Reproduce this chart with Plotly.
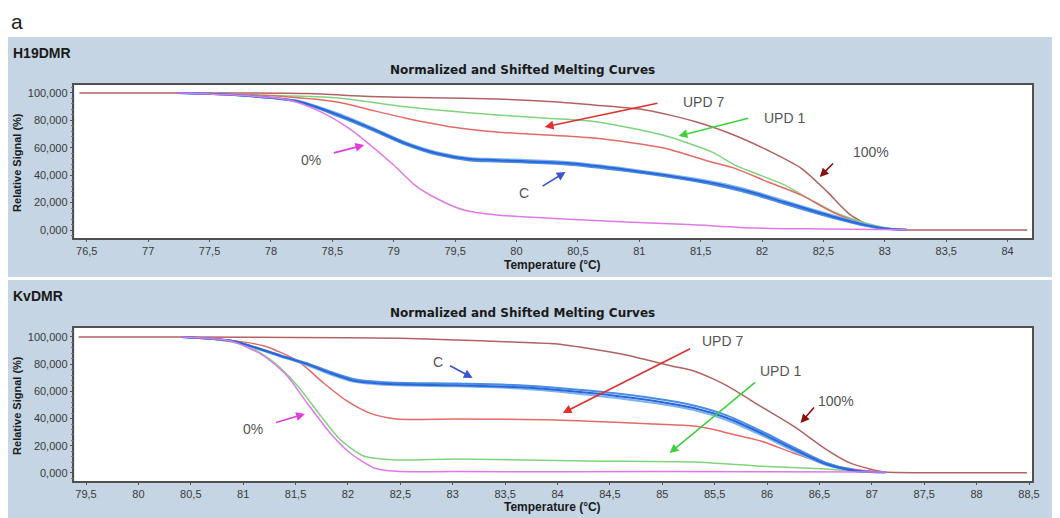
import plotly.graph_objects as go

# ---------------- H19DMR (top panel) ----------------
h19_x_100 = [76.44, 77.5, 78.3, 78.8, 79.3, 79.84, 80.3, 80.65, 81.05, 81.46, 81.78, 82.05, 82.32, 82.53, 82.72, 82.91, 83.1, 83.5, 84.16]
h19_y_100 = [100, 100, 99.6, 97.5, 96.5, 95.5, 93.5, 91, 87.6, 79, 69, 58, 45, 28, 11, 2.2, 0.3, 0, 0]

h19_x_upd1 = [77.24, 77.7, 78.1, 78.55, 79.09, 79.84, 80.25, 80.65, 81.19, 81.59, 81.78, 81.94, 82.18, 82.4, 82.59, 82.85, 83.05, 83.18]
h19_y_upd1 = [100, 99, 98, 96.4, 90, 84, 81.5, 79, 69.3, 57, 47.4, 41.6, 33, 22, 13, 5, 1, 0.2]

h19_x_upd7 = [77.24, 77.7, 78.1, 78.55, 78.81, 79.09, 79.49, 79.84, 80.25, 80.65, 81.19, 81.59, 81.78, 82.05, 82.32, 82.59, 82.85, 83.05, 83.18]
h19_y_upd7 = [100, 99, 97.5, 93.2, 87.6, 81.8, 75, 71.5, 69.3, 67, 60, 49.6, 45, 35, 25.5, 12.4, 4, 1, 0.2]

h19_x_c = [77.24, 77.7, 78.22, 78.55, 78.81, 79.09, 79.35, 79.62, 79.84, 80.38, 80.91, 81.46, 81.7, 81.94, 82.18, 82.59, 82.85, 83.0, 83.18]
h19_y_c1 = [100, 98.5, 94, 84, 74.5, 63.5, 56, 51.8, 51, 49, 43.8, 36.5, 32.4, 27, 20.4, 9.5, 3.6, 1.2, 0.2]
h19_y_c2 = [100, 98.5, 93.5, 83, 73.5, 62.5, 55, 50.8, 50, 48, 42.8, 35.5, 31.2, 25.8, 19.2, 8.6, 3.0, 1.0, 0.2]
h19_y_c3 = [100, 98.6, 94.3, 84.8, 75.3, 64.3, 56.8, 52.6, 51.8, 49.8, 44.6, 37.4, 33.4, 28, 21.4, 10.4, 4.0, 1.4, 0.2]

h19_x_0 = [77.24, 77.7, 78.14, 78.41, 78.63, 78.81, 79.0, 79.17, 79.35, 79.57, 79.84, 80.3, 80.89, 81.4, 81.94, 82.5, 83.18]
h19_y_0 = [100, 98.5, 95, 86, 74.5, 62, 47.4, 33, 23, 14.6, 11, 8.5, 5.8, 4, 1.5, 0.8, 0.3]

# ---------------- KvDMR (bottom panel) ----------------
kv_x_100 = [79.43, 80.5, 81.5, 82.5, 83.03, 83.5, 83.98, 84.3, 84.61, 85.09, 85.3, 85.49, 85.62, 85.94, 86.25, 86.56, 86.79, 86.98, 87.13, 87.5, 88.48]
kv_y_100 = [100, 100, 99.7, 99, 97.8, 96.5, 95, 91.5, 87.5, 78.7, 75, 69, 64, 49, 34.6, 17.6, 7.4, 3, 0.7, 0.2, 0.2]

kv_x_upd1 = [80.41, 80.7, 81.04, 81.3, 81.52, 81.74, 81.92, 82.15, 82.46, 83.03, 84.29, 85.3, 85.94, 86.56, 86.9, 87.13]
kv_y_upd1 = [100, 98.5, 93.4, 81, 64, 42, 25, 12.5, 9.6, 10.3, 8.8, 8, 5, 3, 1, 0.5]

kv_x_upd7 = [80.41, 80.88, 81.2, 81.52, 81.77, 81.99, 82.21, 82.46, 83.03, 83.98, 84.93, 85.3, 85.49, 85.62, 85.94, 86.25, 86.56, 86.88, 87.13]
kv_y_upd7 = [100, 97.5, 93.4, 82.4, 66, 53, 44, 39.7, 39.7, 39, 36, 34.6, 32, 29.4, 23.5, 14.7, 6.6, 2.2, 0.5]

kv_x_c = [80.41, 80.9, 81.36, 81.61, 81.83, 82.05, 82.4, 83.03, 83.67, 84.29, 84.93, 85.3, 85.62, 85.94, 86.25, 86.56, 86.85, 87.13]
kv_y_c1 = [100, 97, 86, 80, 73.5, 68, 65.4, 64.5, 63, 59, 53, 47.8, 40.4, 29.4, 17.6, 6.6, 1.5, 0.5]
kv_y_c2 = [100, 97, 86.5, 80.8, 74.5, 69.2, 66.6, 65.7, 64.4, 60.6, 54.8, 49.6, 42.2, 31, 19, 7.6, 1.8, 0.5]
kv_y_c3 = [100, 96.8, 85.5, 79.2, 72.6, 67.2, 64.6, 63.7, 62, 57.6, 51.4, 46.2, 38.8, 28, 16.4, 6.0, 1.3, 0.5]

kv_x_0 = [80.41, 80.88, 81.2, 81.42, 81.61, 81.83, 82.02, 82.25, 82.46, 83.0, 85.0, 87.13]
kv_y_0 = [100, 97, 86, 71.3, 51.5, 29.4, 14.7, 3.7, 1.2, 1, 1, 0.8]

# ---------------- ticks ----------------
h19_tickvals = [76.5, 77, 77.5, 78, 78.5, 79, 79.5, 80, 80.5, 81, 81.5, 82, 82.5, 83, 83.5, 84]
h19_ticktext = ["76,5", "77", "77,5", "78", "78,5", "79", "79,5", "80", "80,5", "81", "81,5", "82", "82,5", "83", "83,5", "84"]
kv_tickvals = [79.5, 80, 80.5, 81, 81.5, 82, 82.5, 83, 83.5, 84, 84.5, 85, 85.5, 86, 86.5, 87, 87.5, 88, 88.5]
kv_ticktext = ["79,5", "80", "80,5", "81", "81,5", "82", "82,5", "83", "83,5", "84", "84,5", "85", "85,5", "86", "86,5", "87", "87,5", "88", "88,5"]
y_tickvals = [0, 20, 40, 60, 80, 100]
y_ticktext = ["0,000", "20,000", "40,000", "60,000", "80,000", "100,000"]

C_100 = "#b36262"
C_UPD7 = "#e46a66"
C_UPD1 = "#7fd47f"
C_C = ["#2a66d6", "#4b8ce6", "#7ab2f2"]
C_0 = "#de7ae6"

# the page body has an 8px margin: figure covers page pixels 8..1060 x 8..518
OFF = 8
W, H = 1060 - OFF, 518 - OFF


def fx(px):
    return (px - OFF) / W


def fy(py):
    return 1 - (py - OFF) / H


fig = go.Figure()


def add(x, y, color, xa, ya, width=1.5):
    fig.add_trace(go.Scatter(x=x, y=y, mode="lines",
                             line=dict(color=color, width=width, shape="spline", smoothing=0.7),
                             xaxis=xa, yaxis=ya, showlegend=False, hoverinfo="skip"))


add(h19_x_100, h19_y_100, C_100, "x", "y")
add(h19_x_upd1, h19_y_upd1, C_UPD1, "x", "y")
add(h19_x_upd7, h19_y_upd7, C_UPD7, "x", "y")
add(h19_x_c, h19_y_c3, C_C[2], "x", "y", 2)
add(h19_x_c, h19_y_c2, C_C[1], "x", "y", 2)
add(h19_x_c, h19_y_c1, C_C[0], "x", "y", 2)
add(h19_x_0, h19_y_0, C_0, "x", "y")

add(kv_x_100, kv_y_100, C_100, "x2", "y2")
add(kv_x_upd1, kv_y_upd1, C_UPD1, "x2", "y2")
add(kv_x_upd7, kv_y_upd7, C_UPD7, "x2", "y2")
add(kv_x_c, kv_y_c3, C_C[2], "x2", "y2", 2)
add(kv_x_c, kv_y_c2, C_C[1], "x2", "y2", 2)
add(kv_x_c, kv_y_c1, C_C[0], "x2", "y2", 2)
add(kv_x_0, kv_y_0, C_0, "x2", "y2")

font_tick = dict(family="Liberation Sans, Arial, sans-serif", size=11, color="#3a3a3a")
x_dom = [fx(75), fx(1040)]


def xaxis(rng, tv, tt, anchor):
    return dict(domain=x_dom, anchor=anchor, range=rng, tickvals=tv, ticktext=tt,
                ticks="outside", ticklen=2, tickcolor="#555", showline=True, mirror=True,
                linecolor="#505050", linewidth=1.5, showgrid=False, zeroline=False,
                tickfont=font_tick, fixedrange=True)


def yaxis(rng, dom, anchor):
    return dict(domain=dom, anchor=anchor, range=rng, tickvals=y_tickvals, ticktext=y_ticktext,
                ticks="outside", ticklen=3, tickcolor="#555", showline=True, mirror=True,
                linecolor="#505050", linewidth=1.5, showgrid=False, zeroline=False,
                tickfont=font_tick, fixedrange=True,
                minor=dict(ticks="outside", ticklen=2, dtick=4, tickcolor="#777"))


fig.update_layout(
    width=W, height=H,
    margin=dict(l=0, r=0, t=0, b=0),
    paper_bgcolor="#c5d5e4", plot_bgcolor="white",
    xaxis=xaxis([76.4, 84.2], h19_tickvals, h19_ticktext, "y"),
    yaxis=yaxis([-5.8, 105.8], [fy(238), fy(85)], "x"),
    xaxis2=xaxis([79.39, 88.53], kv_tickvals, kv_ticktext, "y2"),
    yaxis2=yaxis([-5.9, 106.6], [fy(481), fy(328)], "x2"),
)

# white strips (top area, separator between panels)
fig.add_shape(type="rect", xref="paper", yref="paper", x0=0, x1=1, y0=fy(37), y1=1,
              fillcolor="white", line_width=0, layer="below")
fig.add_shape(type="rect", xref="paper", yref="paper", x0=0, x1=1, y0=fy(280), y1=fy(277),
              fillcolor="white", line_width=0, layer="below")


def ptext(text, px, py, size, bold=False, angle=0, color="#1a1a1a",
          family="Liberation Sans, Arial, sans-serif", xanchor="center", yanchor="middle"):
    fig.add_annotation(text=("<b>%s</b>" % text) if bold else text, x=fx(px), y=fy(py),
                       xref="paper", yref="paper", showarrow=False, textangle=angle,
                       xanchor=xanchor, yanchor=yanchor,
                       font=dict(size=size, color=color, family=family))


ptext("a", 9, 8, 21, color="#222", xanchor="left", yanchor="top")
ptext("H19DMR", 11, 53, 14, bold=True, xanchor="left")
ptext("KvDMR", 11, 296, 14, bold=True, xanchor="left")
ptext("Normalized and Shifted Melting Curves", 526, 70, 12, bold=True, family="DejaVu Sans, Verdana, sans-serif")
ptext("Normalized and Shifted Melting Curves", 526, 313, 12, bold=True, family="DejaVu Sans, Verdana, sans-serif")
ptext("Temperature (°C)", 557, 265, 12, bold=True)
ptext("Temperature (°C)", 557, 507, 12, bold=True)
ptext("Relative Signal (%)", 17, 162, 11, bold=True, angle=-90)
ptext("Relative Signal (%)", 17, 405, 11, bold=True, angle=-90)

lab_font = dict(family="Liberation Sans, Arial, sans-serif", size=14, color="#555")


def arrow(xr, yr, tx, ty, hx, hy, color):
    fig.add_annotation(x=hx, y=hy, ax=tx, ay=ty, xref=xr, yref=yr, axref=xr, ayref=yr,
                       text="", showarrow=True, arrowhead=2, arrowsize=1.1, arrowwidth=1.6,
                       arrowcolor=color)


def label(xr, yr, x, y, text):
    fig.add_annotation(x=x, y=y, xref=xr, yref=yr, text=text, showarrow=False, font=lab_font)


# top panel annotations
label("x", "y", 78.33, 51, "0%")
arrow("x", "y", 78.50, 56, 78.76, 62, "#e23ce0")
label("x", "y", 80.06, 27, "C")
arrow("x", "y", 80.20, 31.4, 80.40, 42.3, "#3a55d0")
label("x", "y", 81.52, 93.4, "UPD 7")
arrow("x", "y", 81.16, 92.7, 80.23, 75.2, "#e03030")
label("x", "y", 82.18, 81.8, "UPD 1")
arrow("x", "y", 81.90, 81.8, 81.32, 68.6, "#40d040")
label("x", "y", 82.89, 57, "100%")
arrow("x", "y", 82.59, 49.6, 82.47, 38.7, "#8a1010")

# bottom panel annotations
label("x2", "y2", 81.09, 32.4, "0%")
arrow("x2", "y2", 81.30, 36.8, 81.59, 43.4, "#e23ce0")
label("x2", "y2", 82.86, 81.6, "C")
arrow("x2", "y2", 82.96, 79.4, 83.19, 69.9, "#3a55d0")
label("x2", "y2", 85.57, 97, "UPD 7")
arrow("x2", "y2", 85.28, 91.9, 84.05, 44.1, "#e03030")
label("x2", "y2", 86.13, 75, "UPD 1")
arrow("x2", "y2", 85.90, 67.6, 85.07, 14.7, "#40d040")
label("x2", "y2", 86.66, 52.9, "100%")
arrow("x2", "y2", 86.46, 49.3, 86.32, 36.8, "#8a1010")

fig.write_html("out.html")
